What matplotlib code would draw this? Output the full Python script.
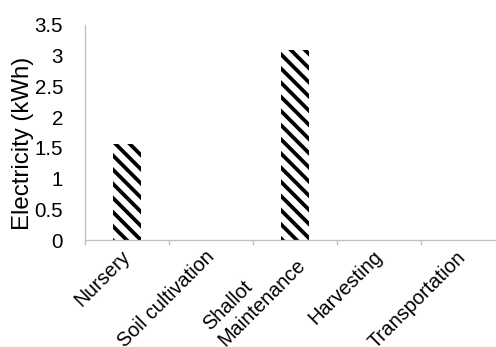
import numpy as np
import matplotlib
matplotlib.use("Agg")
import matplotlib.pyplot as plt

categories = ["Nursery", "Soil cultivation", "Shallot\nMaintenance", "Harvesting", "Transportation"]
electricity = [1.57, 0.0, 3.1, 0.0, 0.0]
yticks = [0, 0.5, 1, 1.5, 2, 2.5, 3, 3.5]
ytick_labels = ["0", "0.5", "1", "1.5", "2", "2.5", "3", "3.5"]

DPI = 85
W, H = 497, 347
def pt(px):
    return px * 72 / DPI

plt.rcParams["font.family"] = ["Liberation Sans", "DejaVu Sans"]
plt.rcParams["hatch.linewidth"] = pt(3.8)
plt.rcParams["hatch.color"] = "black"

fig = plt.figure(figsize=(W / DPI, H / DPI), dpi=DPI)
ax = fig.add_axes([85 / W, (H - 240) / H, (505 - 85) / W, (240 - 25) / H])

x = np.arange(len(categories))
ax.bar(x, electricity, width=0.33, color="white", edgecolor="black",
       hatch="\\\\", linewidth=0)

grey = "#bfbfbf"
ax.set_xlim(-0.5, len(categories) - 0.5)
ax.set_ylim(0, 3.5)
for s in ["top", "right"]:
    ax.spines[s].set_visible(False)
ax.spines["left"].set_color(grey)
ax.spines["bottom"].set_color(grey)
ax.spines["left"].set_linewidth(pt(1.3))
ax.spines["bottom"].set_linewidth(pt(1.3))

ax.set_yticks(yticks)
ax.set_yticklabels(ytick_labels)
ax.tick_params(axis="y", length=0, pad=pt(22), labelsize=pt(20.5))

ax.set_xticks(x)
ax.set_xticks(np.arange(len(categories) + 1) - 0.5, minor=True)
ax.tick_params(axis="x", which="major", length=0, pad=pt(14), labelsize=pt(20))
ax.tick_params(axis="x", which="minor", length=pt(5), width=pt(1.3), color=grey)
ax.set_xticklabels(categories, rotation=45, ha="right", va="center",
                   rotation_mode="anchor", multialignment="left")

fig.text(23 / W, 1 - 143 / H, "Electricity (kWh)", rotation=90,
         ha="center", va="center", fontsize=pt(24))

fig.savefig("out.png", dpi=DPI)
